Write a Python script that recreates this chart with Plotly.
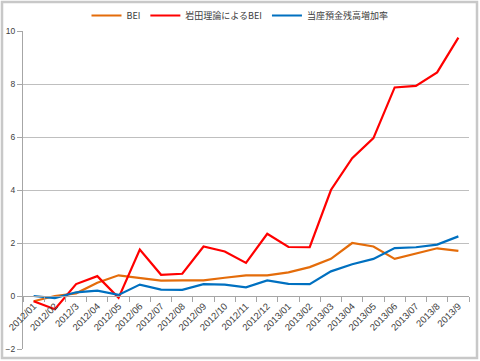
import plotly.graph_objects as go

categories = ["2012/01", "2012/02", "2012/3", "2012/04", "2012/05", "2012/06", "2012/07",
              "2012/08", "2012/09", "2012/10", "2012/11", "2012/12", "2013/01", "2013/02",
              "2013/03", "2013/04", "2013/05", "2013/06", "2013/07", "2013/8", "2013/9"]

bei = [-0.2, 0.0, 0.1, 0.5, 0.78, 0.68, 0.58, 0.59, 0.59, 0.69, 0.78, 0.78, 0.89, 1.09,
       1.4, 2.0, 1.87, 1.4, 1.6, 1.8, 1.7]
iwata_bei = [-0.2, -0.5, 0.45, 0.75, -0.07, 1.75, 0.8, 0.84, 1.87, 1.68, 1.25, 2.35, 1.85, 1.84,
             4.0, 5.2, 5.96, 7.87, 7.93, 8.44, 9.75]
reserves_growth = [0.0, -0.08, 0.14, 0.2, 0.04, 0.43, 0.24, 0.23, 0.45, 0.43, 0.33, 0.59, 0.46, 0.45,
                   0.93, 1.2, 1.4, 1.81, 1.84, 1.94, 2.25]

series_names = ["BEI", "岩田理論によるBEI", "当座預金残高増加率"]
series_colors = ["#E46C0A", "#FF0000", "#0070C0"]

y_min, y_max = -2, 10
y_ticks = [-2, 0, 2, 4, 6, 8, 10]

W, H = 480, 361
ml, mr, mt, mb = 23, 11, 31, 12
pw, ph = W - ml - mr, H - mt - mb

fig = go.Figure()
for name, vals, col in zip(series_names, [bei, iwata_bei, reserves_growth], series_colors):
    fig.add_trace(go.Scatter(x=categories, y=vals, mode="lines", name=name,
                             line=dict(color=col, width=2.2)))

fig.update_layout(
    width=W, height=H,
    margin=dict(l=ml, r=mr, t=mt, b=mb, autoexpand=False),
    paper_bgcolor="white", plot_bgcolor="white",
    font=dict(family="Liberation Sans, Noto Sans CJK JP", size=9, color="#404040"),
    legend=dict(orientation="h", x=0.5, xanchor="center", xref="container",
                y=(H - 1) / H, yanchor="top", yref="container",
                itemwidth=30, font=dict(size=9, family="Noto Sans CJK JP", color="#404040"),
                bgcolor="rgba(0,0,0,0)"),
    showlegend=True,
)

fig.update_xaxes(
    type="category", anchor="free", position=(0 - y_min) / (y_max - y_min),
    showline=True, linecolor="#A6A6A6", linewidth=1,
    ticks="outside", tickson="boundaries", ticklen=5, tickcolor="#A6A6A6",
    tickangle=-45, tickfont=dict(size=9.5, color="#404040"),
    showgrid=False, zeroline=False, automargin=False,
    range=[-0.5, len(categories) - 0.5],
)
fig.update_yaxes(
    range=[y_min, y_max], tickvals=y_ticks,
    showline=True, linecolor="#A6A6A6", linewidth=1,
    ticks="outside", ticklen=5, tickcolor="#A6A6A6",
    showgrid=True, gridcolor="#BFBFBF", gridwidth=1, automargin=False,
    zeroline=False, tickfont=dict(size=8.5, color="#404040"),
)

# outer chart border
fig.add_shape(type="rect", xref="paper", yref="paper",
              x0=(2 - ml) / pw, x1=(W - 3 - ml) / pw,
              y0=-(mb - 3) / ph, y1=1 + (mt - 2) / ph,
              line=dict(color="#C8C8C8", width=2.5), fillcolor="rgba(0,0,0,0)", layer="below")

fig.write_html("out.html", config={"displayModeBar": False},
               post_script="document.body.style.margin='0';document.body.style.overflow='hidden';")
